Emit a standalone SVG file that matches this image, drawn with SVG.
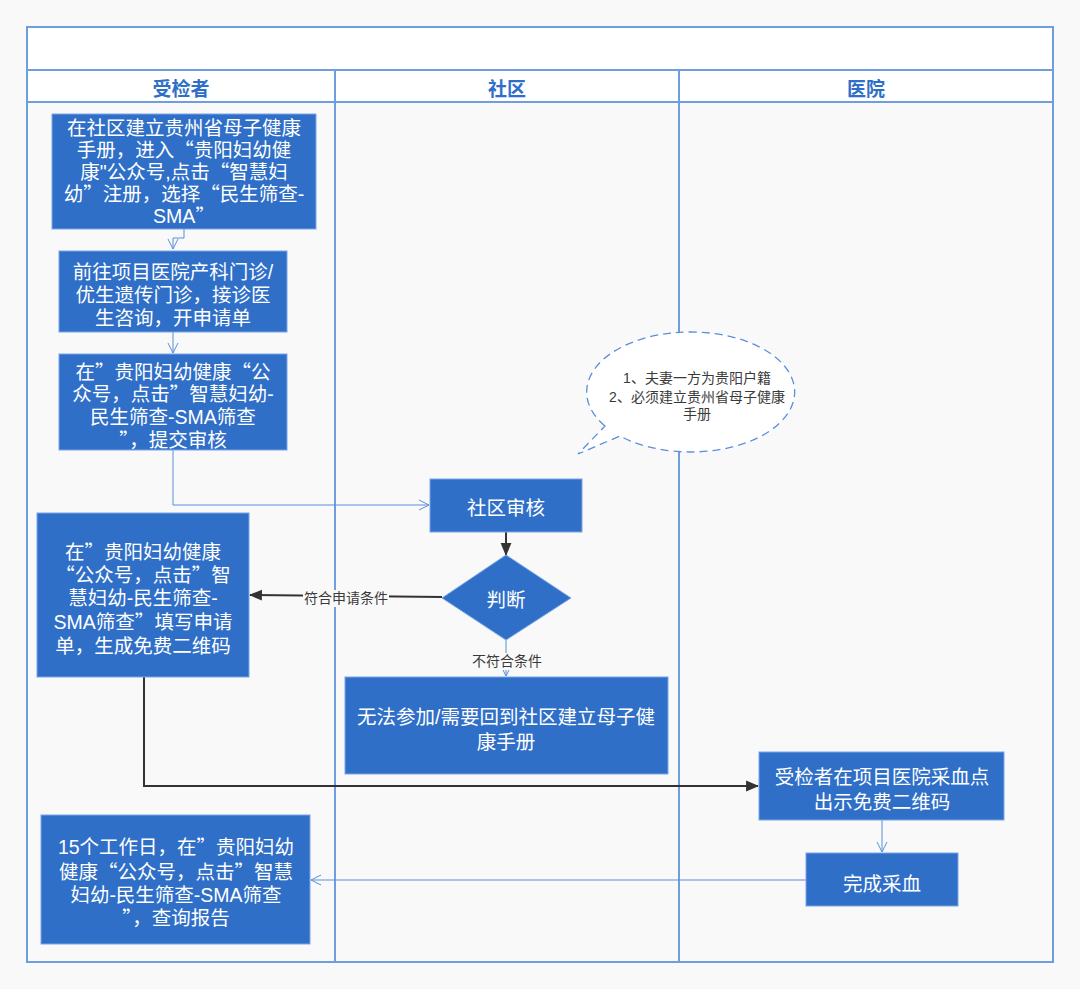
<svg xmlns="http://www.w3.org/2000/svg" width="1080" height="989" viewBox="0 0 1080 989">
<style>
.bg{fill:#f9f9f9}
.frame{fill:none;stroke:#6e9ee0;stroke-width:2}
.hdr{font-family:"Noto Sans CJK SC","Noto Sans",sans-serif;font-size:19px;font-weight:bold;fill:#2f6fc8;text-anchor:middle}
.box{fill:#2f6fc8;stroke:#7aa6e6;stroke-width:1}
.t{font-family:"Liberation Sans","Noto Sans CJK SC",sans-serif;font-size:19.5px;fill:#ffffff;text-anchor:middle}
.q{font-family:"Noto Sans CJK SC",sans-serif}
.lbl{font-family:"Liberation Sans","Noto Sans CJK SC",sans-serif;font-size:14px;fill:#3a3a3a;text-anchor:middle}
.lc{fill:none;stroke:#5b8fd9;stroke-width:1}
.dc{fill:none;stroke:#333333;stroke-width:2}
</style>
<defs>
<marker id="open" viewBox="0 0 12 12" refX="11" refY="6" markerWidth="12" markerHeight="12" markerUnits="userSpaceOnUse" orient="auto">
<path d="M1,1 L11,6 L1,11" fill="none" stroke="#5b8fd9" stroke-width="1"/>
</marker>
<marker id="fill" viewBox="0 0 12 12" refX="11" refY="6" markerWidth="13" markerHeight="13" markerUnits="userSpaceOnUse" orient="auto">
<path d="M0,1 L12,6 L0,11 Z" fill="#333333"/>
</marker>
</defs>
<rect class="bg" x="0" y="0" width="1080" height="989"/>
<g id="pool">
<rect x="27" y="27" width="1026" height="75" fill="#ffffff"/>
<rect class="frame" x="27" y="27" width="1026" height="935"/>
<line class="frame" x1="27" y1="70" x2="1053" y2="70"/>
<line class="frame" x1="27" y1="102" x2="1053" y2="102"/>
<line class="frame" x1="335" y1="70" x2="335" y2="962"/>
<line class="frame" x1="679" y1="70" x2="679" y2="962"/>
<text class="hdr" x="181" y="96">受检者</text>
<text class="hdr" x="507" y="96">社区</text>
<text class="hdr" x="866" y="96">医院</text>
</g>
<g id="connectors">
<path class="lc" d="M184,229 L184,238 L173,238 L173,249" marker-end="url(#open)"/>
<path class="lc" d="M173,332 L173,353" marker-end="url(#open)"/>
<path class="lc" d="M173,450 L173,505 L429,505" marker-end="url(#open)"/>
<path class="dc" d="M506,532 L506,555" marker-end="url(#fill)"/>
<path class="dc" d="M442,597 L250,595" marker-end="url(#fill)"/>
<path class="lc" d="M506,640 L506,676" marker-end="url(#open)"/>
<path class="dc" d="M144,677 L144,786 L758,786" marker-end="url(#fill)"/>
<path class="lc" d="M882,820 L882,852" marker-end="url(#open)"/>
<path class="lc" d="M806,880 L311,880" marker-end="url(#open)"/>
<rect x="303" y="590" width="86" height="17" class="bg"/>
<text class="lbl" x="346" y="603">符合申请条件</text>
<rect x="470" y="653" width="73" height="17" class="bg"/>
<text class="lbl" x="507" y="666">不符合条件</text>
</g>
<g id="n1">
<rect class="box" x="52" y="114" width="264" height="115"/>
<text class="t"><tspan x="184" y="135">在社区建立贵州省母子健康</tspan><tspan x="184" y="157">手册，进入<tspan class="q">“</tspan>贵阳妇幼健</tspan><tspan x="184" y="179">康"公众号,点击<tspan class="q">“</tspan>智慧妇</tspan><tspan x="184" y="201">幼<tspan class="q">”</tspan>注册，选择<tspan class="q">“</tspan>民生筛查-</tspan><tspan x="184" y="223">SMA<tspan class="q">”</tspan></tspan></text>
</g>
<g id="n2">
<rect class="box" x="59" y="251" width="228" height="81"/>
<text class="t"><tspan x="173" y="279">前往项目医院产科门诊/</tspan><tspan x="173" y="302">优生遗传门诊，接诊医</tspan><tspan x="173" y="325">生咨询，开申请单</tspan></text>
</g>
<g id="n3">
<rect class="box" x="59" y="354" width="228" height="96"/>
<text class="t"><tspan x="173" y="379">在<tspan class="q">”</tspan>贵阳妇幼健康<tspan class="q">“</tspan>公</tspan><tspan x="173" y="401">众号，点击<tspan class="q">”</tspan>智慧妇幼-</tspan><tspan x="173" y="424">民生筛查-SMA筛查</tspan><tspan x="173" y="447"><tspan class="q">”</tspan>，提交审核</tspan></text>
</g>
<g id="n4">
<rect class="box" x="430" y="479" width="152" height="53"/>
<text class="t" x="506" y="515">社区审核</text>
</g>
<g id="n5">
<polygon class="box" points="506,555 571,598 506,640 442,598"/>
<text class="t" x="506" y="607">判断</text>
</g>
<g id="n6">
<rect class="box" x="37" y="513" width="212" height="164"/>
<text class="t"><tspan x="143" y="559">在<tspan class="q">”</tspan>贵阳妇幼健康</tspan><tspan x="143" y="582"><tspan class="q">“</tspan>公众号，点击<tspan class="q">”</tspan>智</tspan><tspan x="143" y="605">慧妇幼-民生筛查-</tspan><tspan x="143" y="629">SMA筛查<tspan class="q">”</tspan>填写申请</tspan><tspan x="143" y="653">单，生成免费二维码</tspan></text>
</g>
<g id="n7">
<rect class="box" x="345" y="677" width="323" height="97"/>
<text class="t"><tspan x="506" y="724">无法参加/需要回到社区建立母子健</tspan><tspan x="506" y="749">康手册</tspan></text>
</g>
<g id="n8">
<rect class="box" x="759" y="752" width="245" height="68"/>
<text class="t"><tspan x="882" y="784">受检者在项目医院采血点</tspan><tspan x="882" y="809">出示免费二维码</tspan></text>
</g>
<g id="n9">
<rect class="box" x="806" y="853" width="152" height="53"/>
<text class="t" x="882" y="891">完成采血</text>
</g>
<g id="n10">
<rect class="box" x="41" y="815" width="269" height="129"/>
<text class="t"><tspan x="176" y="854">15个工作日，在<tspan class="q">”</tspan>贵阳妇幼</tspan><tspan x="176" y="879">健康<tspan class="q">“</tspan>公众号，点击<tspan class="q">”</tspan>智慧</tspan><tspan x="176" y="902">妇幼-民生筛查-SMA筛查</tspan><tspan x="176" y="925"><tspan class="q">”</tspan>，查询报告</tspan></text>
</g>
<g id="callout">
<path d="M605,426 A104,60 0 1 1 620,436 L578,454 Z" fill="#ffffff" stroke="#5b8fd9" stroke-width="1.3" stroke-dasharray="8,5"/>
<text class="lbl"><tspan x="697" y="383">1、夫妻一方为贵阳户籍</tspan><tspan x="697" y="402">2、必须建立贵州省母子健康</tspan><tspan x="697" y="419">手册</tspan></text>
</g>
</svg>
